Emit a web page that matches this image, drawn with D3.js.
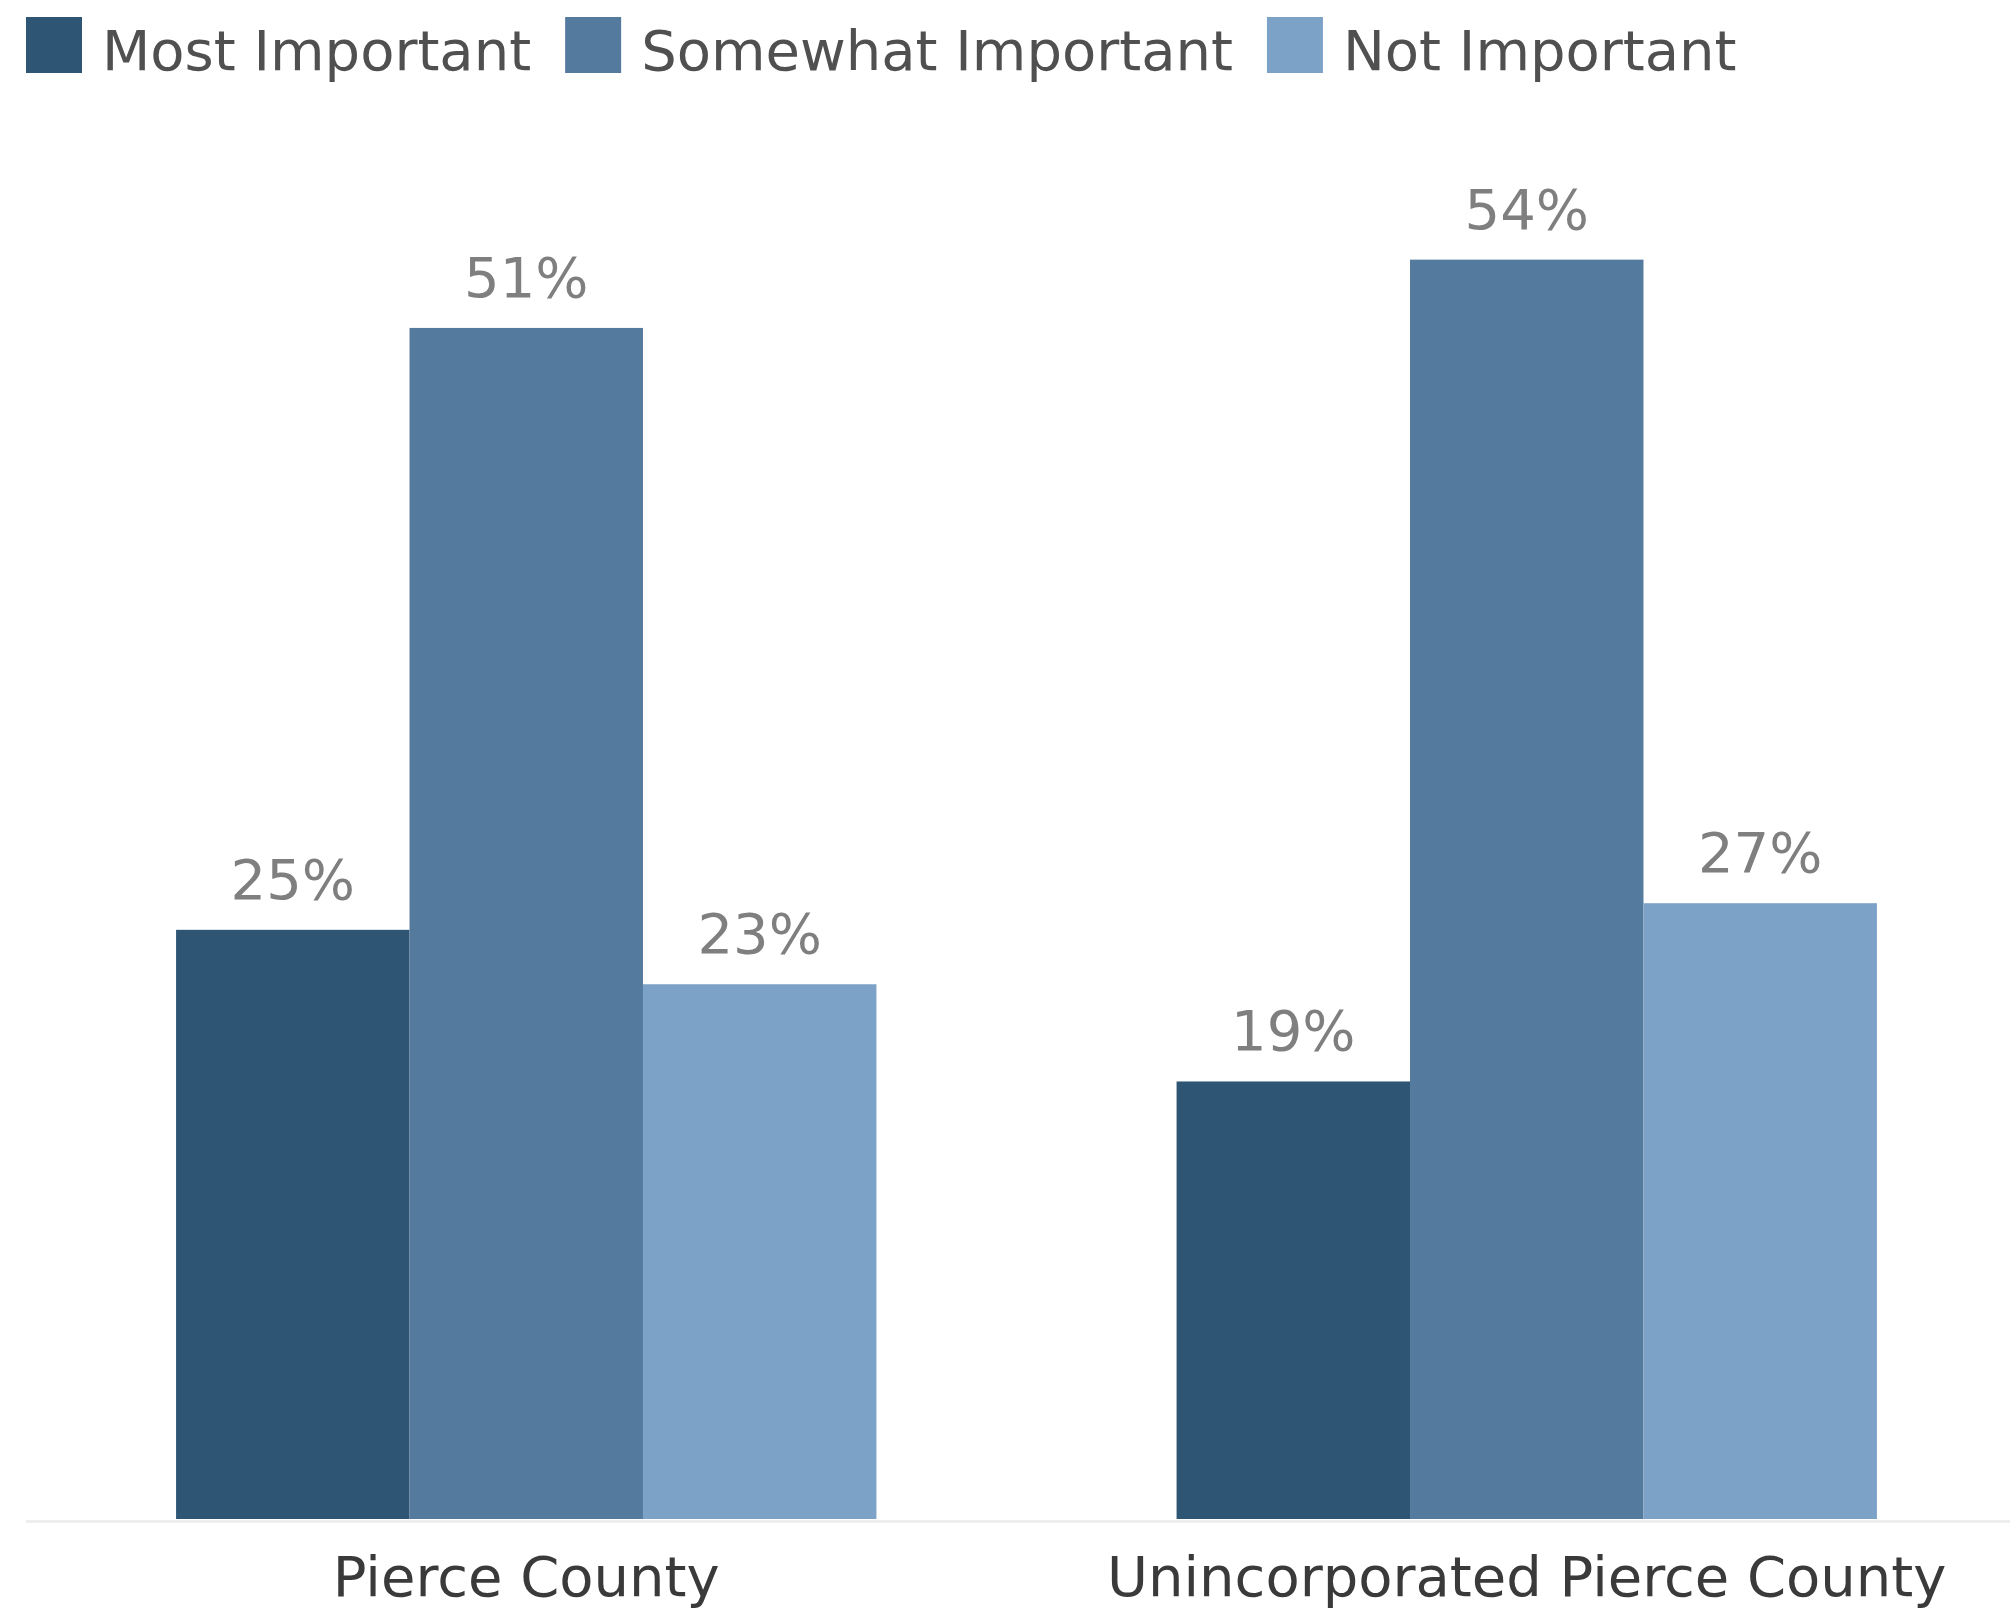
<!DOCTYPE html>
<html>
<head>
<meta charset="utf-8">
<script src="https://cdn.jsdelivr.net/npm/d3@7"></script>
<style>
  body { margin: 0; background: #fff; }
  svg { display: block; font-family: "DejaVu Sans", Verdana, sans-serif; }
</style>
</head>
<body>
<svg width="2010" height="1609"></svg>
<script>
// data (percent)
var groups = ["Pierce County", "Unincorporated Pierce County"];
var series = ["Most Important", "Somewhat Important", "Not Important"];
var mostImportant = [25.45, 18.9];
var somewhatImportant = [51.45, 54.4];
var notImportant = [23.1, 26.6];
var colors = ["#2e5574", "#547a9e", "#7ca2c7"];

var values = [mostImportant, somewhatImportant, notImportant];

var svg = d3.select("svg"),
    width = +svg.attr("width"),
    height = +svg.attr("height");

var baseY = 1519;

// scales
var x0 = d3.scaleBand()
    .domain(groups)
    .range([26, 2027])
    .paddingInner(0.3)
    .paddingOuter(0.15);

var x1 = d3.scaleBand()
    .domain(series)
    .range([0, x0.bandwidth()]);

var y = d3.scaleLinear()
    .domain([0, 60])
    .range([baseY, baseY - 60 * 23.15]);

var color = d3.scaleOrdinal().domain(series).range(colors);

// flatten for drawing
var rows = [];
groups.forEach(function(g, gi) {
    series.forEach(function(s, si) {
        rows.push({ group: g, series: s, value: values[si][gi] });
    });
});

// axis line
svg.append("line")
    .attr("x1", 26)
    .attr("x2", width)
    .attr("y1", baseY + 2.5)
    .attr("y2", baseY + 2.5)
    .attr("stroke", "#eeeeee")
    .attr("stroke-width", 3);

// bars
var bars = svg.append("g");
bars.selectAll("rect")
    .data(rows)
    .enter()
    .append("rect")
    .attr("x", function(d) { return x0(d.group) + x1(d.series); })
    .attr("y", function(d) { return y(d.value); })
    .attr("width", x1.bandwidth())
    .attr("height", function(d) { return y(0) - y(d.value); })
    .attr("fill", function(d) { return color(d.series); });

// value labels
bars.selectAll("text")
    .data(rows)
    .enter()
    .append("text")
    .attr("x", function(d) { return x0(d.group) + x1(d.series) + x1.bandwidth() / 2; })
    .attr("y", function(d) { return y(d.value) - 31; })
    .attr("text-anchor", "middle")
    .attr("font-size", 56)
    .attr("fill", "#7f7f7f")
    .text(function(d) { return Math.round(d.value) + "%"; });

// x axis labels
var xAxis = d3.axisBottom(x0).tickSize(0).tickPadding(0);
var axisG = svg.append("g")
    .attr("transform", "translate(0," + 1596 + ")")
    .call(xAxis);
axisG.select(".domain").remove();
axisG.selectAll("text")
    .attr("dy", 0)
    .attr("y", 0)
    .attr("font-size", 56)
    .attr("font-family", "DejaVu Sans, Verdana, sans-serif")
    .attr("fill", "#3a3a3a");

// legend
var legend = svg.append("g").attr("transform", "translate(26,17)");
var lx = 0;
series.forEach(function(s) {
    var item = legend.append("g").attr("transform", "translate(" + lx + ",0)");
    item.append("rect")
        .attr("width", 56)
        .attr("height", 56)
        .attr("fill", color(s));
    var t = item.append("text")
        .attr("x", 76)
        .attr("y", 53)
        .attr("font-size", 56)
        .attr("fill", "#505050")
        .text(s);
    lx += 76 + t.node().getComputedTextLength() + 34;
});
</script>
</body>
</html>
